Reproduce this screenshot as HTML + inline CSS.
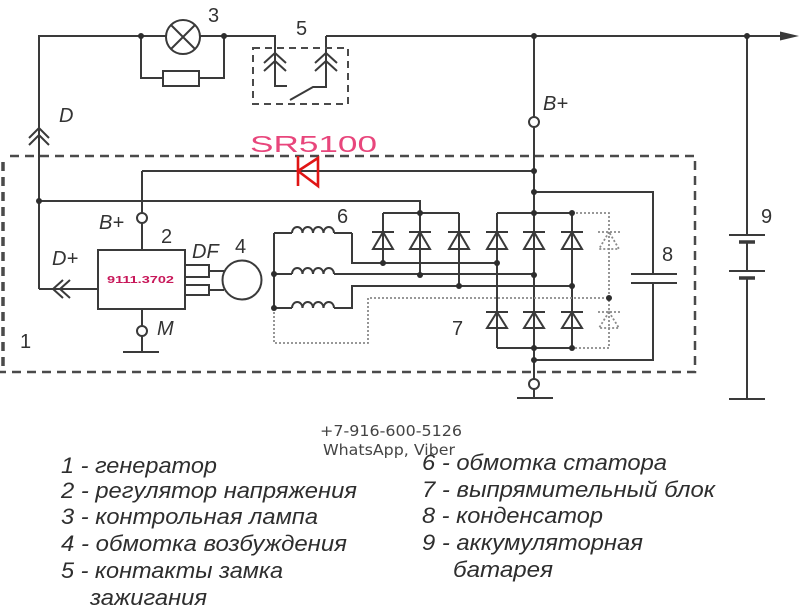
<!DOCTYPE html>
<html><head><meta charset="utf-8"><style>
html,body{margin:0;padding:0;background:#fff;width:800px;height:614px;overflow:hidden}
svg{display:block}
.l{font-family:"Liberation Sans",sans-serif;fill:#333;font-size:20px}
.i{font-style:italic}
.lg{font-family:"Liberation Sans","Noto Sans CJK SC",sans-serif;font-style:italic;fill:#2e2e2e;font-size:22px}
</style></head><body>
<svg width="800" height="614" viewBox="0 0 800 614" xmlns="http://www.w3.org/2000/svg">
<g stroke="#3a3a3a" stroke-width="2" fill="none" stroke-linejoin="miter">
  <!-- top wiring -->
  <path d="M39,289 V36 H166 M200,36 H275 V86 H287 M326,36 H782"/>
  <circle cx="183" cy="37" r="17"/>
  <path d="M171,25 L195,49 M195,25 L171,49"/>
  <path d="M141,36 V78 H163 M199,78 H224 V36"/>
  <rect x="163" y="71" width="36" height="15"/>
  <!-- switch 5 -->
  <path d="M326,36 V87 H313 L290,100"/>
  <path d="M264,63 L275,53 L286,63 M264,71 L275,61 L286,71"/>
  <path d="M315,63 L326,53 L337,63 M315,71 L326,61 L337,71"/>
  <!-- D chevrons -->
  <path d="M29,138 L39,128 L49,138 M29,145 L39,135 L49,145"/>
  <!-- right battery line -->
  <path d="M747,36 V235 M747,242 V271 M747,278 V399"/>
  <path d="M729,235 H765 M729,271 H765 M729,399 H765"/>
  <path d="M739,242 H755 M739,278 H755" stroke-width="3.5"/>
  <!-- main vertical B+ -->
  <path d="M534,36 V117 M534,127 V379 M534,389 V398"/>
  <circle cx="534" cy="122" r="5" fill="#fff"/>
  <circle cx="534" cy="384" r="5" fill="#fff"/>
  <path d="M517,398 H553"/>
  <!-- wire 171 and regulator B+ -->
  <path d="M142,171 H534 M142,171 V213 M142,223 V250"/>
  <circle cx="142" cy="218" r="5" fill="#fff"/>
  <!-- wire 201 -->
  <path d="M39,201 H420 V275"/>
  <!-- regulator -->
  <rect x="98" y="250" width="87" height="59"/>
  <path d="M98,289 H39"/>
  <path d="M63,280 L53,289 L63,298 M70,280 L60,289 L70,298"/>
  <rect x="185" y="265" width="24" height="12"/>
  <rect x="185" y="285" width="24" height="10"/>
  <path d="M209,271 H224 M209,290 H224"/>
  <circle cx="242" cy="280" r="19.5"/>
  <path d="M142,309 V326 M142,336 V352 M123,352 H159"/>
  <circle cx="142" cy="331" r="5" fill="#fff"/>
  <!-- capacitor -->
  <path d="M534,192 H653 V274 M631,274 H677 M631,283 H677 M653,283 V360 H534"/>
  <!-- stator coils -->
  <path d="M352,233 H334 M274,233 V308 M274,233 H292"/>
  <path d="M292,233 a5.25,6 0 0 1 10.5,0 a5.25,6 0 0 1 10.5,0 a5.25,6 0 0 1 10.5,0 a5.25,6 0 0 1 10.5,0"/>
  <path d="M274,274 H292 M334,274 H534"/>
  <path d="M292,274 a5.25,6 0 0 1 10.5,0 a5.25,6 0 0 1 10.5,0 a5.25,6 0 0 1 10.5,0 a5.25,6 0 0 1 10.5,0"/>
  <path d="M274,308 H292 M334,308 H352 V286 H572"/>
  <path d="M292,308 a5.25,6 0 0 1 10.5,0 a5.25,6 0 0 1 10.5,0 a5.25,6 0 0 1 10.5,0 a5.25,6 0 0 1 10.5,0"/>
  <path d="M352,233 V263 H497"/>
  <!-- excitation diodes -->
  <path d="M383,213 H459 M383,213 V263 M459,213 V286"/>
  <!-- main rectifier -->
  <path d="M497,213 H572 M497,213 V348 M572,213 V348 M497,348 H572"/>
  <!-- diode symbols -->
  <path d="M372,232 H394 M383,232 L373,249 H393 Z"/>
  <path d="M409,232 H431 M420,232 L410,249 H430 Z"/>
  <path d="M448,232 H470 M459,232 L449,249 H469 Z"/>
  <path d="M486,232 H508 M497,232 L487,249 H507 Z"/>
  <path d="M523,232 H545 M534,232 L524,249 H544 Z"/>
  <path d="M561,232 H583 M572,232 L562,249 H582 Z"/>
  <path d="M486,312 H508 M497,312 L487,328 H507 Z"/>
  <path d="M523,312 H545 M534,312 L524,328 H544 Z"/>
  <path d="M561,312 H583 M572,312 L562,328 H582 Z"/>
</g>
<!-- dotted optional branch -->
<g stroke="#8a8a8a" stroke-width="1.8" fill="none" stroke-dasharray="2 2">
  <path d="M572,213 H609 V348 H572"/>
  <path d="M274,308 V343 H368 V298 H609"/>
  <path d="M598,232 H620 M609,232 L599,249 H619 Z"/>
  <path d="M598,312 H620 M609,312 L599,328 H619 Z"/>
</g>
<!-- dashed boxes -->
<g stroke="#4a4a4a" fill="none">
  <path d="M10,156 H695 V372 H0" stroke-width="2.5" stroke-dasharray="9 6"/>
  <path d="M3,162 V372" stroke-width="3.5" stroke-dasharray="9 6"/>
  <rect x="253" y="48" width="95" height="56" stroke-width="2" stroke-dasharray="7 5"/>
</g>
<!-- arrow -->
<path d="M780,31.5 L799,36 L780,40.5 Z" fill="#3a3a3a"/>
<!-- dots -->
<g fill="#2e2e2e">
  <circle cx="141" cy="36" r="3"/><circle cx="224" cy="36" r="3"/>
  <circle cx="534" cy="36" r="3"/><circle cx="747" cy="36" r="3"/>
  <circle cx="39" cy="201" r="3"/><circle cx="534" cy="171" r="3"/>
  <circle cx="534" cy="192" r="3"/><circle cx="534" cy="213" r="3"/>
  <circle cx="420" cy="213" r="3"/><circle cx="383" cy="263" r="3"/>
  <circle cx="497" cy="263" r="3"/><circle cx="420" cy="275" r="3"/>
  <circle cx="534" cy="275" r="3"/><circle cx="459" cy="286" r="3"/>
  <circle cx="572" cy="286" r="3"/><circle cx="572" cy="213" r="3"/>
  <circle cx="572" cy="348" r="3"/><circle cx="534" cy="348" r="3"/>
  <circle cx="534" cy="360" r="3"/><circle cx="274" cy="274" r="3"/>
  <circle cx="274" cy="308" r="3"/><circle cx="609" cy="298" r="3"/>
</g>
<!-- red diode -->
<g stroke="#e01515" stroke-width="2.6" fill="none">
  <path d="M298,156 V186"/>
  <path d="M318,158 L298,171 L318,186 Z"/>
</g>
<text x="250" y="152" font-family="Liberation Sans,sans-serif" font-size="23" fill="#e8467c" textLength="127" lengthAdjust="spacingAndGlyphs">SR5100</text>
<text x="107" y="283" font-family="Liberation Sans,sans-serif" font-size="10" font-weight="bold" fill="#c8185a" textLength="67" lengthAdjust="spacingAndGlyphs">9111.3702</text>
<!-- labels -->
<text class="l" x="208" y="22">3</text>
<text class="l" x="296" y="35">5</text>
<text class="l i" x="59" y="122">D</text>
<text class="l i" x="543" y="110">B+</text>
<text class="l i" x="99" y="229">B+</text>
<text class="l" x="161" y="243">2</text>
<text class="l i" x="192" y="258">DF</text>
<text class="l" x="235" y="253">4</text>
<text class="l i" x="52" y="265">D+</text>
<text class="l i" x="157" y="335">M</text>
<text class="l" x="20" y="348">1</text>
<text class="l" x="337" y="223">6</text>
<text class="l" x="452" y="335">7</text>
<text class="l" x="662" y="261">8</text>
<text class="l" x="761" y="223">9</text>
<!-- contact -->
<text x="320" y="436" font-family="DejaVu Sans,sans-serif" font-size="15" fill="#444" textLength="142" lengthAdjust="spacingAndGlyphs">+7-916-600-5126</text>
<text x="323" y="455" font-family="DejaVu Sans,sans-serif" font-size="15" fill="#444" textLength="132" lengthAdjust="spacingAndGlyphs">WhatsApp, Viber</text>
<!-- legend -->
<text class="lg" x="61" y="473" textLength="156" lengthAdjust="spacingAndGlyphs">1 - генератор</text>
<text class="lg" x="61" y="498" textLength="296" lengthAdjust="spacingAndGlyphs">2 - регулятор напряжения</text>
<text class="lg" x="61" y="524" textLength="257" lengthAdjust="spacingAndGlyphs">3 - контрольная лампа</text>
<text class="lg" x="61" y="551" textLength="286" lengthAdjust="spacingAndGlyphs">4 - обмотка возбуждения</text>
<text class="lg" x="61" y="578" textLength="222" lengthAdjust="spacingAndGlyphs">5 - контакты замка</text>
<text class="lg" x="90" y="605" textLength="117" lengthAdjust="spacingAndGlyphs">зажигания</text>
<text class="lg" x="422" y="470" textLength="245" lengthAdjust="spacingAndGlyphs">6 - обмотка статора</text>
<text class="lg" x="422" y="497" textLength="293" lengthAdjust="spacingAndGlyphs">7 - выпрямительный блок</text>
<text class="lg" x="422" y="523" textLength="181" lengthAdjust="spacingAndGlyphs">8 - конденсатор</text>
<text class="lg" x="422" y="550" textLength="221" lengthAdjust="spacingAndGlyphs">9 - аккумуляторная</text>
<text class="lg" x="453" y="577" textLength="100" lengthAdjust="spacingAndGlyphs">батарея</text>
</svg>
</body></html>
